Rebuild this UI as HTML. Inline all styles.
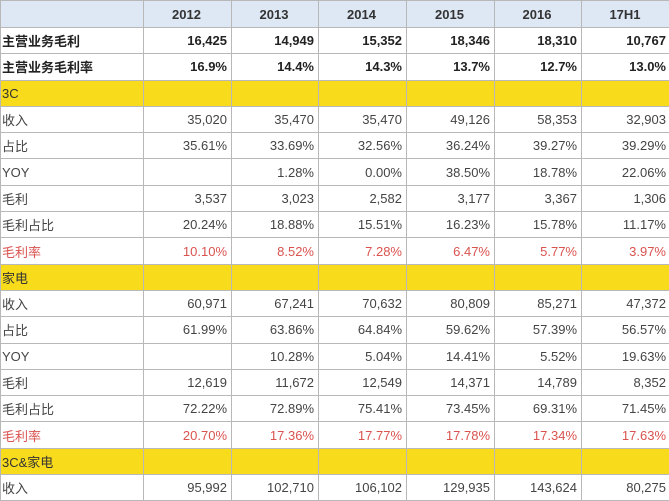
<!DOCTYPE html>
<html><head><meta charset="utf-8"><style>
html,body{margin:0;width:669px;height:501px;overflow:hidden;background:#fff;}
table{border-collapse:collapse;table-layout:fixed;width:670px;font-family:"Liberation Sans","Noto Sans CJK SC",sans-serif;font-size:13px;color:#444;}
td{border:1px solid #b8b8b8;height:25.3px;padding:0 4px 0 2px;text-align:right;white-space:nowrap;overflow:hidden;}
td:first-child{text-align:left;padding-left:1px;}
tr.h td{background:#dee8f5;height:26px;font-weight:bold;text-align:center;color:#333;}
tr.b td{font-weight:bold;color:#222;}
tr.y td{background:#f8dc1c;color:#333;}
tr.r td{color:#d9534f;}
</style></head><body>
<table>
<colgroup><col style="width:143px"><col style="width:88px"><col style="width:87px"><col style="width:88px"><col style="width:88px"><col style="width:87px"><col style="width:89px"></colgroup>
<tr class="h"><td></td><td>2012</td><td>2013</td><td>2014</td><td>2015</td><td>2016</td><td>17H1</td></tr>
<tr class="b"><td>主营业务毛利</td><td>16,425</td><td>14,949</td><td>15,352</td><td>18,346</td><td>18,310</td><td>10,767</td></tr>
<tr class="b"><td>主营业务毛利率</td><td>16.9%</td><td>14.4%</td><td>14.3%</td><td>13.7%</td><td>12.7%</td><td>13.0%</td></tr>
<tr class="y"><td>3C</td><td></td><td></td><td></td><td></td><td></td><td></td></tr>
<tr><td>收入</td><td>35,020</td><td>35,470</td><td>35,470</td><td>49,126</td><td>58,353</td><td>32,903</td></tr>
<tr><td>占比</td><td>35.61%</td><td>33.69%</td><td>32.56%</td><td>36.24%</td><td>39.27%</td><td>39.29%</td></tr>
<tr><td>YOY</td><td></td><td>1.28%</td><td>0.00%</td><td>38.50%</td><td>18.78%</td><td>22.06%</td></tr>
<tr><td>毛利</td><td>3,537</td><td>3,023</td><td>2,582</td><td>3,177</td><td>3,367</td><td>1,306</td></tr>
<tr><td>毛利占比</td><td>20.24%</td><td>18.88%</td><td>15.51%</td><td>16.23%</td><td>15.78%</td><td>11.17%</td></tr>
<tr class="r"><td>毛利率</td><td>10.10%</td><td>8.52%</td><td>7.28%</td><td>6.47%</td><td>5.77%</td><td>3.97%</td></tr>
<tr class="y"><td>家电</td><td></td><td></td><td></td><td></td><td></td><td></td></tr>
<tr><td>收入</td><td>60,971</td><td>67,241</td><td>70,632</td><td>80,809</td><td>85,271</td><td>47,372</td></tr>
<tr><td>占比</td><td>61.99%</td><td>63.86%</td><td>64.84%</td><td>59.62%</td><td>57.39%</td><td>56.57%</td></tr>
<tr><td>YOY</td><td></td><td>10.28%</td><td>5.04%</td><td>14.41%</td><td>5.52%</td><td>19.63%</td></tr>
<tr><td>毛利</td><td>12,619</td><td>11,672</td><td>12,549</td><td>14,371</td><td>14,789</td><td>8,352</td></tr>
<tr><td>毛利占比</td><td>72.22%</td><td>72.89%</td><td>75.41%</td><td>73.45%</td><td>69.31%</td><td>71.45%</td></tr>
<tr class="r"><td>毛利率</td><td>20.70%</td><td>17.36%</td><td>17.77%</td><td>17.78%</td><td>17.34%</td><td>17.63%</td></tr>
<tr class="y"><td>3C&amp;家电</td><td></td><td></td><td></td><td></td><td></td><td></td></tr>
<tr><td>收入</td><td>95,992</td><td>102,710</td><td>106,102</td><td>129,935</td><td>143,624</td><td>80,275</td></tr>
</table>
</body></html>
